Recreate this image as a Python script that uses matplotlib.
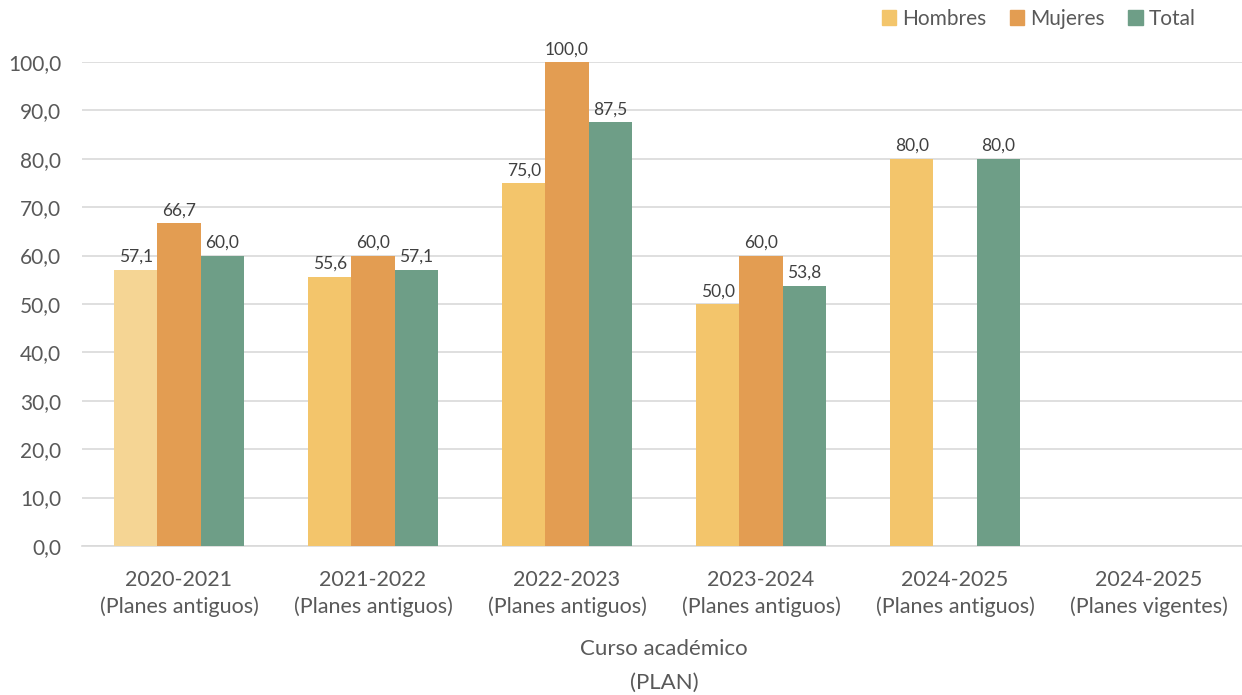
import matplotlib
matplotlib.use("Agg")
import matplotlib.pyplot as plt
import numpy as np

categories = ["2020-2021\n(Planes antiguos)", "2021-2022\n(Planes antiguos)", "2022-2023\n(Planes antiguos)",
              "2023-2024\n(Planes antiguos)", "2024-2025\n(Planes antiguos)", "2024-2025\n(Planes vigentes)"]
hombres = [57.1, 55.6, 75.0, 50.0, 80.0, None]
mujeres = [66.7, 60.0, 100.0, 60.0, None, None]
total = [60.0, 57.1, 87.5, 53.8, 80.0, None]
series_names = ["Hombres", "Mujeres", "Total"]
colors = ["#F3C56B", "#E39D52", "#6E9E87"]
highlight_color = "#F5D594"

plt.rcParams['font.family'] = ['Lato', 'DejaVu Sans']

fig = plt.figure(figsize=(12.42, 6.95), dpi=100)
ax = fig.add_axes([82 / 1242, 0.2144, 1164 / 1242, 0.6964])

x = np.arange(len(categories))
w = 0.223
txt = "#404040"
for i, (name, vals, c) in enumerate(zip(series_names, [hombres, mujeres, total], colors)):
    xs = [xx + (i - 1) * w for xx, v in zip(x, vals) if v is not None]
    vs = [v for v in vals if v is not None]
    cols = [c] * len(vs)
    if i == 0:
        cols[0] = highlight_color
    ax.bar(xs, vs, width=w, color=cols, label=name, zorder=3)
    for xx, v in zip(xs, vs):
        ax.text(xx, v + 1.0, f"{v:.1f}".replace(".", ","), ha="center", va="bottom",
                fontsize=12.5, color=txt, zorder=4)

ax.set_ylim(0, 100)
ax.set_xlim(-0.5, len(categories) - 0.5)
ax.set_yticks(np.arange(0, 101, 10))
ax.set_yticklabels([f"{v:.1f}".replace(".", ",") for v in np.arange(0, 101, 10)])
ax.set_xticks(x)
ax.set_xticklabels(categories, linespacing=1.4)
ax.tick_params(axis="both", length=0, labelsize=15, colors="#595959")
ax.tick_params(axis="y", pad=15)
ax.tick_params(axis="x", pad=17, labelsize=15.5)
ax.grid(axis="y", color="#D9D9D9", linewidth=1.2, zorder=0)
for s in ["top", "right", "left"]:
    ax.spines[s].set_visible(False)
ax.spines["bottom"].set_color("#D9D9D9")
ax.spines["bottom"].set_linewidth(1.2)

ax.set_xlabel("Curso académico\n(PLAN)", fontsize=16, color="#595959", labelpad=16, linespacing=1.85)

h = [plt.Rectangle((0, 0), 1, 1, color=c) for c in colors]
fig.legend(h, series_names, loc="upper right", bbox_to_anchor=(0.978, 1.014), ncol=3,
           frameon=False, fontsize=15, handlelength=0.7, handleheight=0.7,
           handletextpad=0.3, columnspacing=1.1, labelcolor="#595959")

fig.savefig("out.png", dpi=100)
